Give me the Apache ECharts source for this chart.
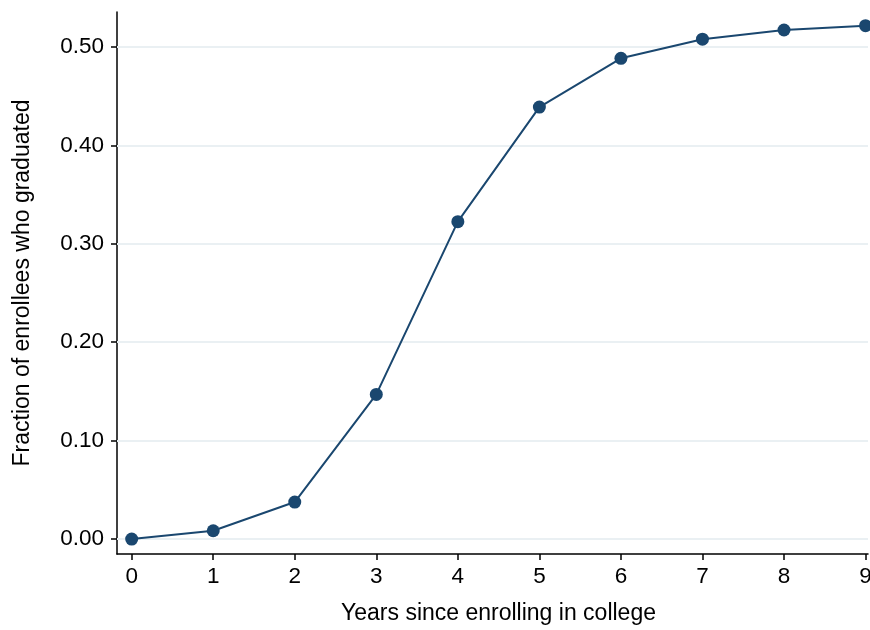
<!DOCTYPE html>
<html><head><meta charset="utf-8">
<script src="https://cdn.jsdelivr.net/npm/echarts@6/dist/echarts.min.js"></script>
<style>html,body{margin:0;padding:0;background:#fff}#c{width:870px;height:630px}</style>
</head><body><div id="c"></div>
<script>
const years = [0,1,2,3,4,5,6,7,8,9];
const fractionGraduated = [0.000,0.0084,0.0376,0.147,0.3225,0.439,0.4885,0.508,0.5173,0.5217];
const xTicks = [0,1,2,3,4,5,6,7,8,9];
const yTicks = [0,0.1,0.2,0.3,0.4,0.5];

const FONT = 'Liberation Sans';
const navy = '#1a476f';
const chart = echarts.init(document.getElementById('c'), null, {renderer:'canvas'});
chart.setOption({
  animation:false,
  grid:{left:117,right:2,top:12,bottom:76,containLabel:false,outerBoundsMode:'none'},
  xAxis:{type:'value',min:-0.18,max:9.03,
    name:'Years since enrolling in college',nameLocation:'middle',nameGap:48,
    nameTextStyle:{fontFamily:FONT,fontSize:23,color:'#000',padding:[0,0,0,12]},
    axisLine:{show:true,onZero:false,lineStyle:{color:'#000',width:1.5}},
    axisTick:{show:true,customValues:xTicks,length:6,lineStyle:{color:'#000',width:1.5}},
    axisLabel:{customValues:xTicks,fontFamily:FONT,fontSize:22.5,color:'#000',margin:11},
    splitLine:{show:false}},
  yAxis:{type:'value',min:-0.0152,max:0.5356,
    name:'Fraction of enrollees who graduated',nameLocation:'middle',nameGap:83,
    nameTextStyle:{fontFamily:FONT,fontSize:23,color:'#000'},
    axisLine:{show:true,onZero:false,lineStyle:{color:'#000',width:1.5}},
    axisTick:{show:true,customValues:yTicks,length:6,lineStyle:{color:'#000',width:1.5}},
    axisLabel:{customValues:yTicks,fontFamily:FONT,fontSize:22.5,color:'#000',margin:13,
      formatter:v=>v.toFixed(2)},
    splitLine:{show:false}},
  series:[{type:'line',data:years.map((x,i)=>[x,fractionGraduated[i]]),
    symbol:'circle',symbolSize:13,
    lineStyle:{color:navy,width:2},itemStyle:{color:navy},
    markLine:{silent:true,symbol:'none',label:{show:false},z:1,
      lineStyle:{color:'#eaf0f3',width:2,type:'solid'},
      data:yTicks.map(v=>({yAxis:v}))}
  }]
});
</script></body></html>
